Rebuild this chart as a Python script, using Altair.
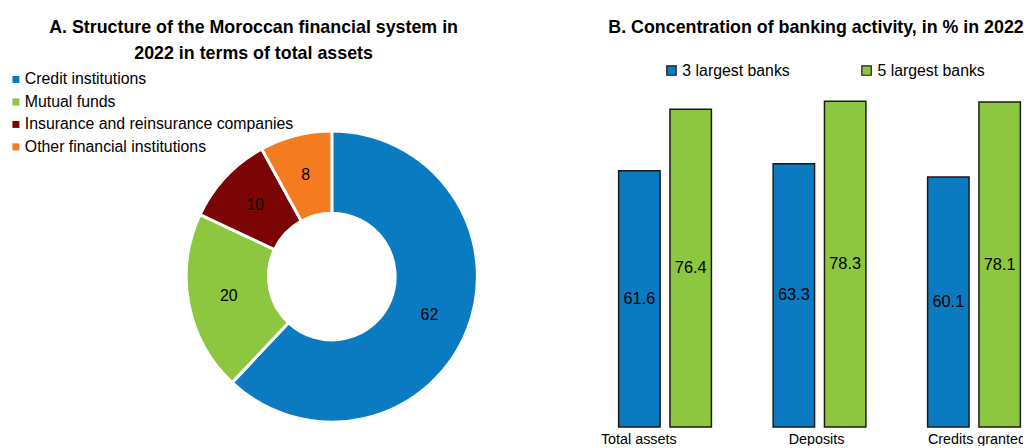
import altair as alt
import pandas as pd

# ---- Panel A data ----
sectors = ["Credit institutions", "Mutual funds", "Insurance and reinsurance companies", "Other financial institutions"]
shares = [62, 20, 10, 8]
sector_colors = ["#0A7BC1", "#8DC63F", "#7B0505", "#F47B20"]
titleA_lines = ["A. Structure of the Moroccan financial system in", "2022 in terms of total assets"]

# ---- Panel B data ----
activities = ["Total assets", "Deposits", "Credits granted"]
groups = ["3 largest banks", "5 largest banks"]
top3 = [61.6, 63.3, 60.1]
top5 = [76.4, 78.3, 78.1]
group_colors = ["#0A7BC1", "#8DC63F"]
titleB_text = "B. Concentration of banking activity, in % in 2022"

FONT = "Liberation Sans"

dfA = pd.DataFrame({"sector": sectors, "share": shares, "order": list(range(len(sectors)))})
rows = []
for i, a in enumerate(activities):
    rows.append({"activity": a, "group": groups[0], "value": top3[i]})
    rows.append({"activity": a, "group": groups[1], "value": top5[i]})
dfB = pd.DataFrame(rows)
one = pd.DataFrame({"k": [0]})

CX, CY = 326, 269

baseA = alt.Chart(dfA).encode(
    theta=alt.Theta("share:Q", stack=True),
    order=alt.Order("order:Q"),
)
arcs = baseA.mark_arc(outerRadius=147, innerRadius=64, stroke="white", strokeWidth=3).encode(
    x=alt.value(CX), y=alt.value(CY),
    color=alt.Color("sector:N", sort=sectors,
                    scale=alt.Scale(domain=sectors, range=sector_colors),
                    legend=alt.Legend(orient="none", legendX=-1, legendY=62, title=None,
                                      symbolType="square", symbolSize=50, symbolStrokeWidth=0,
                                      labelFont=FONT, labelFontSize=16, labelColor="#000",
                                      labelOffset=1, rowPadding=6.7, labelLimit=400)),
)
arc_text = baseA.mark_text(radius=106, font=FONT, fontSize=16, color="#000").encode(
    x=alt.value(CX), y=alt.value(CY),
    text=alt.Text("share:Q"),
)
tA1 = alt.Chart(one).mark_text(font=FONT, fontSize=18, fontWeight="bold", color="#000",
                               baseline="alphabetic", text=titleA_lines[0]).encode(
    x=alt.value(247), y=alt.value(23))
tA2 = alt.Chart(one).mark_text(font=FONT, fontSize=18, fontWeight="bold", color="#000",
                               baseline="alphabetic", text=titleA_lines[1]).encode(
    x=alt.value(247), y=alt.value(49))
left = alt.layer(arcs, arc_text, tA1, tA2).properties(width=520, height=440)

ydom = [-4.52, 100.2]
xscale = alt.Scale(domain=activities, range=[4.5, 472.5], paddingInner=0, paddingOuter=0)
bars = alt.Chart(dfB).mark_bar(stroke="#1a1a1a", strokeWidth=1.5, clip=True).encode(
    x=alt.X("activity:N", sort=activities, axis=None, scale=xscale),
    xOffset=alt.XOffset("group:N", sort=groups,
                        scale=alt.Scale(domain=groups, paddingInner=0.1923, paddingOuter=0.601)),
    y=alt.Y("value:Q", axis=None, scale=alt.Scale(domain=ydom, zero=False, nice=False)),
    y2=alt.Y2(datum=0),
    color=alt.Color("group:N", sort=groups,
                    scale=alt.Scale(domain=groups, range=group_colors),
                    legend=alt.Legend(orient="none", legendX=81, legendY=53, title=None,
                                      direction="horizontal", symbolType="square", symbolSize=90,
                                      symbolStrokeColor="#1a1a1a", symbolStrokeWidth=1.2,
                                      labelFont=FONT, labelFontSize=16, labelColor="#000",
                                      labelOffset=3, columnPadding=69, labelLimit=300)),
)
bar_text = alt.Chart(dfB).transform_calculate(mid="datum.value/2").mark_text(
    font=FONT, fontSize=16.5, color="#000", clip=True
).encode(
    x=alt.X("activity:N", sort=activities),
    xOffset=alt.XOffset("group:N", sort=groups),
    y=alt.Y("mid:Q"),
    text=alt.Text("value:Q", format=".1f"),
)

label_dx = [-26.5, -3, 3]
x_labels = [
    alt.Chart(pd.DataFrame({"activity": [a]})).mark_text(
        font=FONT, fontSize=14.5, color="#000", clip=True, baseline="alphabetic", dx=d
    ).encode(x=alt.X("activity:N", sort=activities), y=alt.Y(datum=-4.1), text="activity:N")
    for a, d in zip(activities, label_dx)
]
titleB = alt.Chart(one).mark_text(font=FONT, fontSize=18, fontWeight="bold", color="#000",
                                  baseline="alphabetic", text=titleB_text).encode(
    x=alt.value(235), y=alt.value(23))

right = alt.layer(bars, bar_text, *x_labels, titleB).properties(width=444, height=440)

chart = alt.hconcat(left, right, spacing=60).resolve_scale(color="independent").properties(
    padding=0
).configure_view(stroke=None)

chart.save("out.html", embed_options={"renderer": "svg", "actions": False})
